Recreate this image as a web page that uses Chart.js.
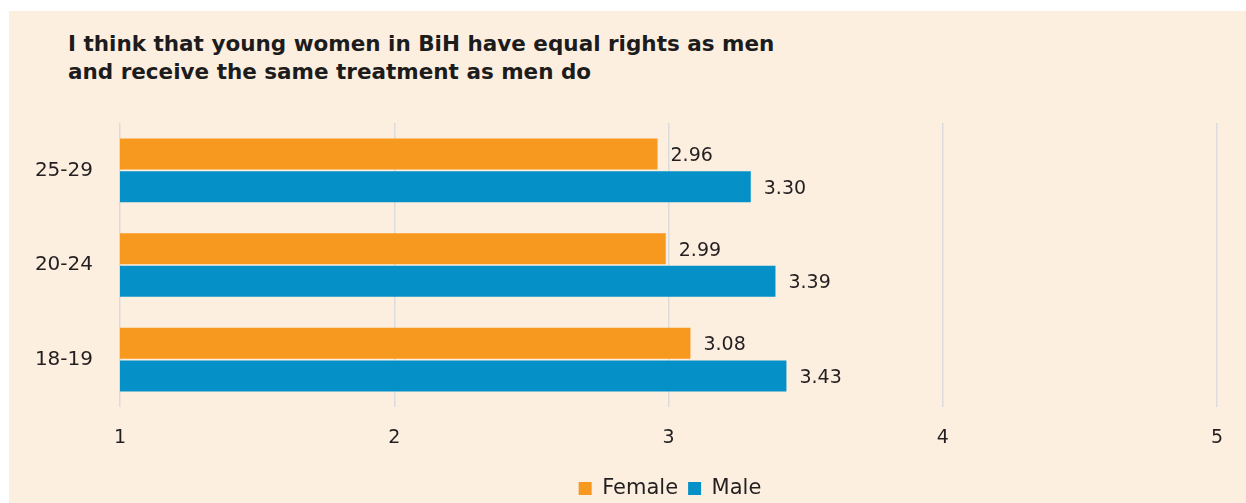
<!DOCTYPE html>
<html lang="en">
<head>
    <meta charset="UTF-8">
    <title>Equal rights by age group</title>
    <script src="https://cdn.jsdelivr.net/npm/chart.js"></script>
    <style>
        html, body { margin: 0; padding: 0; background: #ffffff; overflow: hidden; }
        #panel {
            position: absolute; left: 9px; top: 11px;
            width: 1237px; height: 492px;
            background: #fdefe0; overflow: hidden;
        }
        #title {
            position: absolute; left: 59px; top: 19px;
            font-family: "DejaVu Sans", sans-serif; font-weight: bold;
            font-size: 21.5px; line-height: 28px; color: #1c1c1c;
            white-space: nowrap;
        }
        #wrap { position: absolute; left: 0; top: 0; width: 1322px; height: 492px; }
    </style>
</head>
<body>
    <div id="panel">
        <div id="title">I think that young women in BiH have equal rights as men<br>and receive the same treatment as men do</div>
        <div id="wrap"><canvas id="chart"></canvas></div>
    </div>

    <script>
        // age groups, top to bottom
        const ageGroups = ['25-29', '20-24', '18-19'];
        // average agreement (scale 1-5)
        const femaleValues = [2.96, 2.99, 3.08];
        const maleValues = [3.30, 3.39, 3.43];
        const xTicks = [1, 2, 3, 4, 5];

        const font = "DejaVu Sans";
        const textColor = '#231f20';

        // value labels to the right of each bar
        const valueLabels = {
            id: 'valueLabels',
            afterDatasetsDraw(chart) {
                const ctx = chart.ctx;
                ctx.save();
                ctx.font = '19px "' + font + '"';
                ctx.fillStyle = textColor;
                ctx.textBaseline = 'middle';
                chart.data.datasets.forEach((ds, i) => {
                    chart.getDatasetMeta(i).data.forEach((bar, j) => {
                        ctx.fillText(ds.data[j].toFixed(2), bar.x + 13, bar.y + 2);
                    });
                });
                ctx.restore();
            }
        };

        const ctx = document.getElementById('chart').getContext('2d');
        new Chart(ctx, {
            type: 'bar',
            data: {
                labels: ageGroups,
                datasets: [
                    { label: 'Female', data: femaleValues, backgroundColor: '#f8991f' },
                    { label: 'Male', data: maleValues, backgroundColor: '#0590c8' }
                ]
            },
            options: {
                indexAxis: 'y',
                responsive: true,
                maintainAspectRatio: false,
                animation: false,
                categoryPercentage: 0.69,
                barPercentage: 0.95,
                layout: { padding: { top: 112, right: 0, bottom: -6, left: 0 } },
                scales: {
                    x: {
                        min: 1, max: 5,
                        afterBuildTicks(scale) { scale.ticks = xTicks.map(v => ({ value: v })); },
                        afterFit(scale) { scale.height = 61; },
                        grid: { color: '#dcdcdc', lineWidth: 1.5, drawTicks: false },
                        border: { display: false },
                        ticks: { color: textColor, font: { family: font, size: 19 }, padding: 20 }
                    },
                    y: {
                        afterFit(scale) { scale.width = 111; },
                        grid: { display: false, drawTicks: false },
                        border: { display: false },
                        ticks: { color: textColor, font: { family: font, size: 20 }, padding: 27 }
                    },
                    // empty right-hand axis keeps room so the legend centres under the plot
                    spacer: {
                        type: 'linear', position: 'right',
                        afterFit(scale) { scale.width = 114; },
                        grid: { display: false, drawTicks: false },
                        border: { display: false },
                        ticks: { display: false }
                    }
                },
                plugins: {
                    legend: {
                        position: 'bottom',
                        labels: {
                            color: textColor,
                            font: { family: font, size: 21 },
                            boxWidth: 13, boxHeight: 13,
                            padding: 10
                        }
                    },
                    tooltip: { enabled: false }
                }
            },
            plugins: [valueLabels]
        });
    </script>
</body>
</html>
